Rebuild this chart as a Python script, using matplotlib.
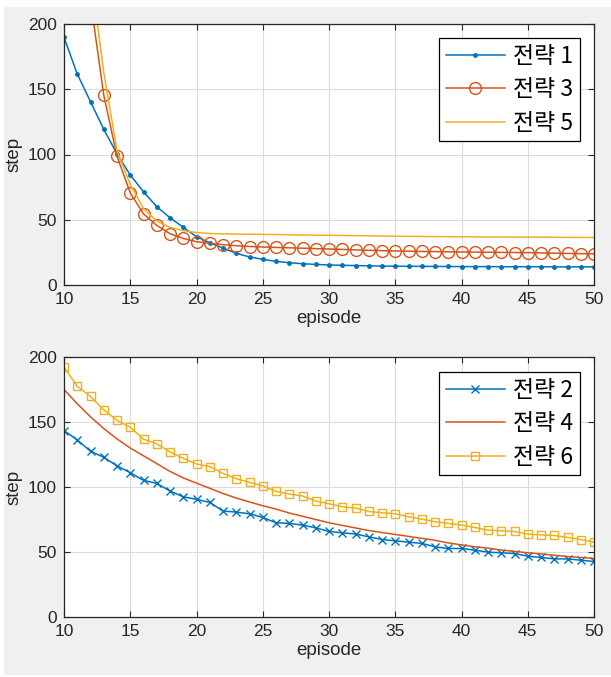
import numpy as np
import matplotlib
matplotlib.use("Agg")
import matplotlib.pyplot as plt
from matplotlib.patches import Rectangle

episode = list(range(10, 51))

# top panel
s1 = [189.8, 161.7, 140.5, 119.3, 100.5, 84.3, 71.5, 60.0, 51.6, 44.2,
      37.0, 32.4, 28.3, 24.3, 21.5, 19.7, 18.1, 17.1, 16.3, 15.8,
      15.3, 15.1, 14.9, 14.7, 14.5, 14.4, 14.3, 14.3, 14.2, 14.2,
      14.1, 14.1, 14.1, 14.0, 14.0, 14.0, 14.0, 13.9, 13.9, 13.9, 13.9]
s3 = [480, 330, 218, 145.6, 98.6, 70.6, 54.5, 45.7, 39.3, 35.7,
      33.2, 31.9, 30.9, 30.1, 29.5, 29.1, 28.8, 28.5, 28.2, 27.9,
      27.6, 27.3, 26.9, 26.6, 26.3, 26.1, 25.9, 25.7, 25.6, 25.4,
      25.3, 25.2, 25.1, 25.0, 24.9, 24.8, 24.6, 24.4, 24.2, 24.0, 23.8]
s5 = [520, 370, 241, 163, 103, 77, 58.7, 49.0, 44.2, 41.6,
      40.2, 39.5, 39.2, 39.0, 38.9, 38.8, 38.6, 38.5, 38.3, 38.2,
      38.1, 38.0, 37.8, 37.7, 37.5, 37.4, 37.3, 37.2, 37.1, 37.0,
      36.9, 36.9, 36.8, 36.8, 36.7, 36.7, 36.6, 36.6, 36.5, 36.5, 36.4]

# bottom panel
s2 = [143.4, 136.2, 127.5, 122.9, 116.2, 111.0, 105.1, 102.8, 96.9, 92.5,
      90.5, 88.2, 81.5, 80.7, 79.4, 76.6, 72.5, 72.0, 70.7, 68.6,
      65.8, 64.8, 63.8, 61.7, 59.6, 58.6, 57.6, 56.6, 54.0, 52.7,
      52.7, 51.4, 49.9, 49.4, 48.8, 46.8, 45.8, 44.7, 44.7, 43.7, 42.7]
s4 = [175, 164, 154, 145, 137, 130, 124, 118, 112, 107,
      103, 99, 95, 91.5, 88.5, 85.6, 83, 80, 77.5, 75,
      72.5, 70.5, 68.5, 66.5, 65, 63.5, 62, 60.5, 59, 57,
      55.5, 54, 53, 51.5, 50.5, 49.4, 48.5, 47.5, 46.5, 45.8, 45]
s6 = [192.3, 177.4, 169.7, 159.4, 151.2, 146.0, 136.8, 133.2, 127.0, 122.1,
      117.7, 115.7, 110.5, 106.4, 103.6, 100.8, 96.7, 94.6, 93.1, 89.2,
      87.1, 84.8, 83.8, 81.2, 80.2, 79.4, 77.1, 75.3, 73.3, 72.0,
      70.7, 68.9, 66.8, 66.3, 65.8, 63.8, 63.2, 62.7, 61.2, 59.6, 57.6]

labels_top = ['전략 1', '전략 3', '전략 5']
labels_bot = ['전략 2', '전략 4', '전략 6']

blue = '#0072BD'
red = '#D95319'
yellow = '#EDB120'
dark = '#262626'

plt.rcParams['font.family'] = ['Liberation Sans', 'DejaVu Sans']

fig = plt.figure(figsize=(6.11, 6.77), dpi=100)
fig.patch.set_facecolor('white')
W, H = 611, 677
fig.patches.append(Rectangle((4 / W, 2 / H), 1 - 4 / W, (H - 9) / H,
                             transform=fig.transFigure, facecolor='#f0f0f0',
                             edgecolor='none', zorder=-10))

ax1 = fig.add_axes([64 / W, 1 - 285 / H, 530 / W, 261 / H])
ax2 = fig.add_axes([64 / W, 1 - 617 / H, 530 / W, 260 / H])

ax1.plot(episode, s1, color=blue, lw=1.1, marker='.', ms=5, label=labels_top[0])
ax1.plot(episode, s3, color=red, lw=1.1, marker='o', ms=8.5, mfc='none',
         mew=1.0, label=labels_top[1])
ax1.plot(episode, s5, color=yellow, lw=1.1, label=labels_top[2])

ax2.plot(episode, s2, color=blue, lw=1.1, marker='x', ms=5.5, mew=1.0, label=labels_bot[0])
ax2.plot(episode, s4, color=red, lw=1.1, label=labels_bot[1])
ax2.plot(episode, s6, color=yellow, lw=1.1, marker='s', ms=6.3, mfc='none',
         mew=1.0, label=labels_bot[2])

for ax, anchor in ((ax1, (0.974, 0.946)), (ax2, (0.974, 0.942))):
    ax.set_xlim(10, 50)
    ax.set_ylim(0, 200)
    ax.set_xticks(range(10, 51, 5))
    ax.set_yticks(range(0, 201, 50))
    ax.grid(True, color='#dcdcdc', lw=0.8)
    ax.set_axisbelow(True)
    ax.tick_params(direction='in', top=True, right=True, length=4, width=0.8,
                   colors=dark, labelsize=12.5, pad=5)
    for sp in ax.spines.values():
        sp.set_color(dark)
        sp.set_linewidth(0.9)
    ax.set_xlabel('episode', fontsize=13.5, color=dark, labelpad=2)
    ax.set_ylabel('step', fontsize=13.5, color=dark, labelpad=4)
    leg = ax.legend(loc='upper right', bbox_to_anchor=anchor, borderaxespad=0,
                    fancybox=False, framealpha=1, edgecolor='black',
                    handlelength=2.6, handletextpad=0.35, borderpad=0.3,
                    labelspacing=0.45,
                    prop={'family': ['Noto Sans CJK KR', 'DejaVu Sans'], 'size': 16.5})
    leg.get_frame().set_linewidth(0.9)

fig.savefig('out.png', dpi=100, facecolor=fig.get_facecolor())
